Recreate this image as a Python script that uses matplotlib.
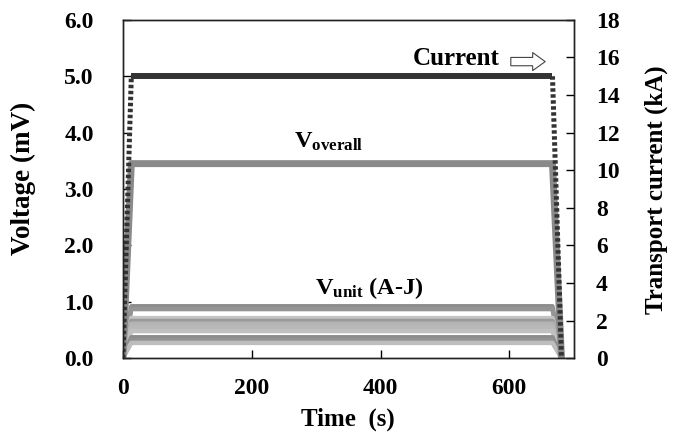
import matplotlib
matplotlib.use('Agg')
import matplotlib.pyplot as plt

plt.rcParams['font.family'] = ['Liberation Serif', 'DejaVu Serif']
plt.rcParams['font.weight'] = 'bold'
plt.rcParams['mathtext.fontset'] = 'custom'
plt.rcParams['mathtext.rm'] = 'Liberation Serif:bold'
plt.rcParams['mathtext.bf'] = 'Liberation Serif:bold'

# breakpoints of the run (s): start, end of ramp up, start of ramp down, end
time = [0, 13, 667, 681]
current = [0, 15, 15, 0]          # kA
v_overall = [0, 3.45, 3.45, 0]    # mV

# flat-top voltages of the ten units A-J (mV) and the grey each one is drawn in
unit_levels = [0.92, 0.87, 0.71, 0.66, 0.61, 0.55, 0.48, 0.37, 0.32, 0.27]
unit_greys = ['#8e8e8e', '#959595', '#c4c4c4', '#9a9a9a', '#b4b4b4',
              '#b8b8b8', '#c0c0c0', '#8c8c8c', '#929292', '#bdbdbd']

fig = plt.figure(figsize=(6.83, 4.32), dpi=100)
ax = fig.add_axes([0.180, 0.171, 0.660, 0.783])

for lvl, c in zip(unit_levels, unit_greys):
    ax.plot(time, [0, lvl, lvl, 0], color=c, lw=3.2, solid_capstyle='butt')

ax.plot(time, v_overall, color='#8a8a8a', lw=5, solid_capstyle='butt')

ax.set_xlim(0, 700)
ax.set_ylim(0, 6)
ax.set_xticks([0, 200, 400, 600])
ax.set_yticks(range(7))
ax.set_yticklabels([f'{v:.1f}' for v in range(7)])
ax.tick_params(direction='in', length=6, width=1, labelsize=17)
ax.tick_params(axis='y', pad=21)
ax.tick_params(axis='x', pad=14)
ax.set_xlabel('Time  (s)', fontsize=18, fontweight='bold')
ax.set_ylabel('Voltage (mV)', fontsize=19.5, fontweight='bold')
ax.xaxis.set_label_coords(0.5, -0.145)
ax.yaxis.set_label_coords(-0.192, 0.53)

# transport current on the right axis
ax2 = ax.twinx()
ax2.plot(time[1:3], current[1:3], color='#333333', lw=4.3, solid_capstyle='butt')
ax2.plot(time[:2], current[:2], color='#333333', lw=3.6, dashes=(0.7, 0.5))
ax2.plot(time[2:], current[2:], color='#333333', lw=3.6, dashes=(0.7, 0.5))
ax2.set_ylim(0, 18)
ax2.set_yticks(range(0, 19, 2))
ax2.tick_params(direction='in', length=6, width=1, labelsize=17, pad=16)
ax2.set_ylabel('Transport current (kA)', fontsize=18, fontweight='bold')
ax2.yaxis.set_label_coords(1.157, 0.497)

for a in (ax, ax2):
    for s in a.spines.values():
        s.set_linewidth(1)
        s.set_color('#222222')

ax.text(585, 5.31, 'Current', fontsize=18, fontweight='bold', ha='right', va='center')
ax.annotate('', xy=(660, 5.26), xytext=(598, 5.26),
            arrowprops=dict(arrowstyle='simple,head_length=0.9,head_width=1.3,tail_width=0.6',
                            fc='white', ec='#444444', lw=0.8))
ax.text(319, 3.73, r'$\mathbf{V_{overall}}$', fontsize=17.5, ha='center', va='baseline')
ax.text(383, 1.13, r'$\mathbf{V_{unit}}$ (A-J)', fontsize=17.5, fontweight='bold',
        ha='center', va='baseline')

fig.savefig('out.png', dpi=100)
